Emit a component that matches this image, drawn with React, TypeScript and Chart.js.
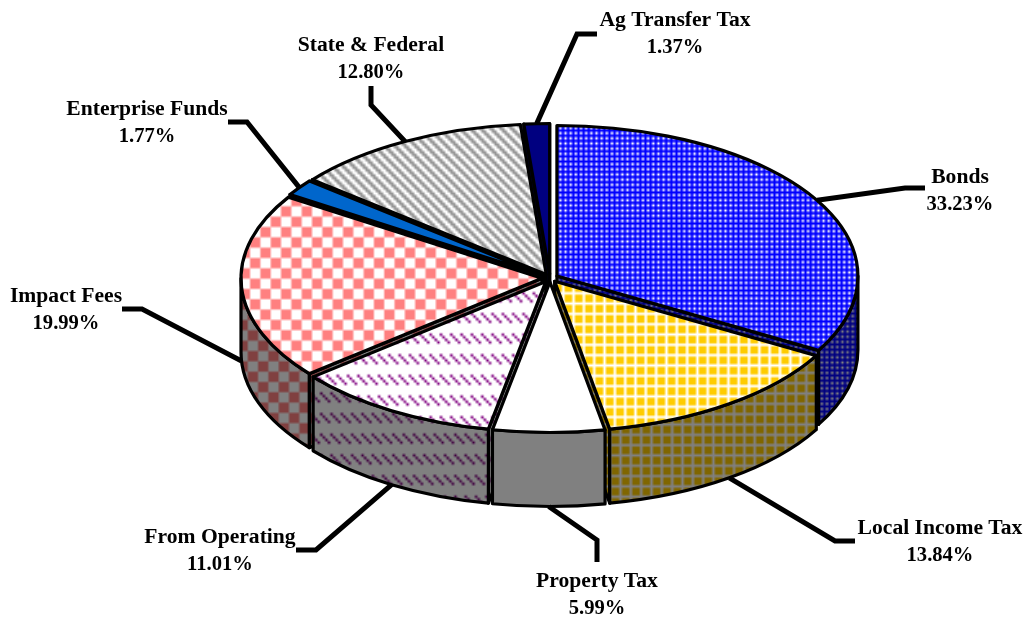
import React, { useEffect, useRef } from "react";
import { Chart, registerables } from "chart.js";

Chart.register(...registerables);

const categories = ["Bonds", "Local Income Tax", "Property Tax", "From Operating", "Impact Fees", "Enterprise Funds", "State & Federal", "Ag Transfer Tax"];
const shares = [33.23, 13.84, 5.99, 11.01, 19.99, 1.77, 12.8, 1.37];

const labelX = [960, 940, 597, 220, 66, 147, 371, 675];
const labelY = [177, 528, 581, 537, 296, 109, 45, 20];
const elbowX = [905, 835, 597, 316, 142, 247, 371, 577];
const elbowY = [188, 541, 540, 550, 309, 122, 105, 34];
const tailX = [925, 855, 597, 296, 122, 228, 371, 597];
const tailY = [188, 541, 562, 550, 309, 122, 86, 34];

const GRID = ["wwww", "w###", "w###", "w###"];
const CHECK = ["####wwww", "####wwww", "####wwww", "####wwww", "wwww####", "wwww####", "wwww####", "wwww####"];
const DOTS = ["w#", "##"];
const DASH = ["#www#www", "w#www#ww", "ww#www#w", "www#www#", "wwwwwwww", "wwwwwwww", "wwwwwwww", "wwwwwwww"];
const STRIPE = ["##ww", "w##w", "ww##", "#ww#"];
const SOLID = ["#"];

const tiles = [DOTS, GRID, SOLID, DASH, CHECK, SOLID, STRIPE, SOLID];
const foreground = ["#0000ff", "#ffcc00", "#ffffff", "#800080", "#ff8080", "#0066cc", "#969696", "#000080"];
const background = ["#ffffff", "#ffffff", "#ffffff", "#ffffff", "#ffffff", "#0066cc", "#ffffff", "#000080"];

const CY = 278;
const SQUASH = 0.5;
const DEPTH = 74;
const EXPLODE = 8;
const UNIT = 2.58;

function shade(hex: string) {
  const n = parseInt(hex.slice(1), 16);
  const h = (v: number) => Math.round(v / 2).toString(16).padStart(2, "0");
  return "#" + h((n >> 16) & 255) + h((n >> 8) & 255) + h(n & 255);
}

function makePattern(ctx: CanvasRenderingContext2D, tile: string[], fg: string, bg: string, sy: number) {
  const c = document.createElement("canvas");
  c.width = tile[0].length;
  c.height = tile.length;
  const t = c.getContext("2d")!;
  tile.forEach((row, y) => {
    [...row].forEach((ch, x) => {
      t.fillStyle = ch === "#" ? fg : bg;
      t.fillRect(x, y, 1, 1);
    });
  });
  const p = ctx.createPattern(c, "repeat")!;
  p.setTransform(new DOMMatrix().scale(UNIT, UNIT * sy));
  return p;
}

const pie3d = {
  id: "pie3d",
  beforeDatasetsDraw(chart: any) {
    const ctx: CanvasRenderingContext2D = chart.ctx;
    const arcs = chart.getDatasetMeta(0).data as any[];
    const geo = arcs.map((arc, i) => {
      const mid = (arc.startAngle + arc.endAngle) / 2;
      return {
        i, arc, mid,
        s: arc.startAngle, e: arc.endAngle,
        r: arc.outerRadius,
        x: arc.x + Math.cos(mid) * EXPLODE,
        y: CY + Math.sin(mid) * EXPLODE * SQUASH,
      };
    });
    const pt = (g: any, a: number) => [g.x + g.r * Math.cos(a), g.y + g.r * SQUASH * Math.sin(a)];

    ctx.save();
    ctx.lineWidth = 3.2;
    ctx.lineJoin = "round";
    ctx.strokeStyle = "#000";

    [...geo].sort((a, b) => Math.sin(a.mid) - Math.sin(b.mid)).forEach((g) => {
      ctx.fillStyle = makePattern(ctx, tiles[g.i], shade(foreground[g.i]), shade(background[g.i]), 1);
      const face = (a: number) => {
        const [px, py] = pt(g, a);
        ctx.beginPath();
        ctx.moveTo(g.x, g.y);
        ctx.lineTo(px, py);
        ctx.lineTo(px, py + DEPTH);
        ctx.lineTo(g.x, g.y + DEPTH);
        ctx.closePath();
        ctx.fill();
        ctx.stroke();
      };
      if (Math.cos(g.s) < 0) face(g.s);
      if (Math.cos(g.e) > 0) face(g.e);
      const a0 = Math.max(g.s, 0);
      const a1 = Math.min(g.e, Math.PI);
      if (a1 > a0) {
        ctx.beginPath();
        ctx.ellipse(g.x, g.y, g.r, g.r * SQUASH, 0, a0, a1);
        ctx.ellipse(g.x, g.y + DEPTH, g.r, g.r * SQUASH, 0, a1, a0, true);
        ctx.closePath();
        ctx.fill();
        ctx.stroke();
      }
    });

    geo.forEach((g) => {
      ctx.save();
      ctx.translate(g.x, g.y);
      ctx.scale(1, SQUASH);
      ctx.translate(-g.arc.x, -g.arc.y);
      g.arc.draw(ctx);
      ctx.restore();
      ctx.beginPath();
      ctx.moveTo(g.x, g.y);
      ctx.ellipse(g.x, g.y, g.r, g.r * SQUASH, 0, g.s, g.e);
      ctx.closePath();
      ctx.stroke();
    });

    ctx.lineWidth = 5;
    ctx.lineJoin = "miter";
    geo.forEach((g) => {
      const [px, py] = pt(g, g.mid);
      ctx.beginPath();
      ctx.moveTo(px, py + (Math.sin(g.mid) > 0 ? DEPTH : 0));
      ctx.lineTo(elbowX[g.i], elbowY[g.i]);
      ctx.lineTo(tailX[g.i], tailY[g.i]);
      ctx.stroke();
    });

    ctx.fillStyle = "#000";
    ctx.textAlign = "center";
    ctx.textBaseline = "middle";
    geo.forEach((g) => {
      ctx.font = 'bold 21.6px "Liberation Serif"';
      ctx.fillText(categories[g.i], labelX[g.i], labelY[g.i]);
      ctx.font = 'bold 20.6px "Liberation Serif"';
      ctx.fillText(shares[g.i].toFixed(2) + "%", labelX[g.i], labelY[g.i] + 28);
    });
    ctx.restore();
    return false;
  },
};

export default function App() {
  const ref = useRef<HTMLCanvasElement>(null);
  useEffect(() => {
    document.body.style.margin = "0";
    const ctx = ref.current!.getContext("2d")!;
    const fills = tiles.map((tile, i) => makePattern(ctx, tile, foreground[i], background[i], 1 / SQUASH));
    const chart = new Chart(ref.current!, {
      type: "pie",
      data: {
        labels: categories,
        datasets: [{ data: shares, backgroundColor: fills, borderWidth: 0, clip: false } as any],
      },
      options: {
        responsive: false,
        animation: false,
        layout: { padding: { left: 249, right: 175, top: 8, bottom: 8 } },
        plugins: { legend: { display: false }, tooltip: { enabled: false }, title: { display: false } },
      },
      plugins: [pie3d as any],
    });
    return () => chart.destroy();
  }, []);
  return <canvas ref={ref} width={1026} height={618} style={{ display: "block" }} />;
}
